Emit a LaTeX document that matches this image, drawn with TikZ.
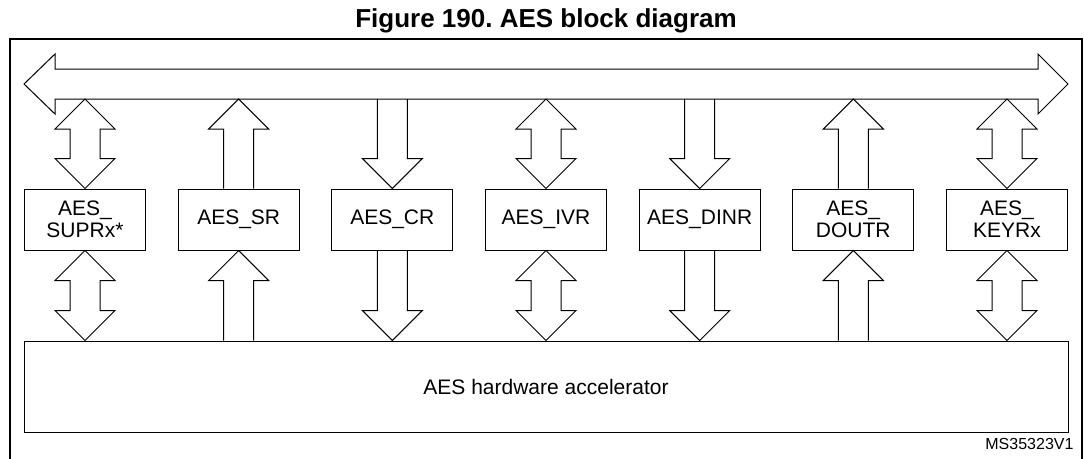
\documentclass[tikz,border=0pt]{standalone}
\usepackage{fontspec}
\setmainfont{Liberation Sans}
\usetikzlibrary{calc,positioning}
\frenchspacing

\tikzset{
  reg/.style={draw, rectangle, line width=1pt, minimum width=121pt, minimum height=61pt,
              inner sep=0pt, align=center, font=\fontsize{21}{22}\selectfont},
  fat/.style={draw, line width=1pt, line join=miter},
}

% block arrows between two points on one vertical (#1 = upper end, #2 = lower end)
\newcommand{\arrdown}[2]{%
  \draw[fat] let \p1=(#1), \p2=(#2) in
    (\x1-15pt,\y1) -- (\x1-15pt,\y2+30pt) -- (\x1-30pt,\y2+30pt) -- (\x1,\y2)
    -- (\x1+30pt,\y2+30pt) -- (\x1+15pt,\y2+30pt) -- (\x1+15pt,\y1);}
\newcommand{\arrup}[2]{%
  \draw[fat] let \p1=(#1), \p2=(#2) in
    (\x1-15pt,\y2) -- (\x1-15pt,\y1-30pt) -- (\x1-30pt,\y1-30pt) -- (\x1,\y1)
    -- (\x1+30pt,\y1-30pt) -- (\x1+15pt,\y1-30pt) -- (\x1+15pt,\y2);}
\newcommand{\arrboth}[2]{%
  \draw[fat] let \p1=(#1), \p2=(#2) in
    (\x1,\y1) -- (\x1+30pt,\y1-30pt) -- (\x1+15pt,\y1-30pt) -- (\x1+15pt,\y2+30pt)
    -- (\x1+30pt,\y2+30pt) -- (\x1,\y2) -- (\x1-30pt,\y2+30pt) -- (\x1-15pt,\y2+30pt)
    -- (\x1-15pt,\y1-30pt) -- (\x1-30pt,\y1-30pt) -- cycle;}

\begin{document}
\begin{tikzpicture}[x=1pt, y=-1pt]
\useasboundingbox (0,0) rectangle (1084,458);

% title and frame
\node[font=\bfseries\fontsize{26}{30}\selectfont, anchor=base] (title) at (546,27) {Figure 190. AES block diagram};
\draw[line width=2.5pt] (10,39) rectangle (1082,460);

% bus
\coordinate (busL) at (24,84);
\coordinate (busR) at (1068,84);
\coordinate (busbot) at (0,99);
\draw[fat] let \p1=(busL), \p2=(busR) in
  (\x1,\y1) -- (\x1+31pt,\y1+30pt) -- (\x1+31pt,\y1+15pt) -- (\x2-30pt,\y1+15pt)
  -- (\x2-30pt,\y1+30pt) -- (\x2,\y1) -- (\x2-30pt,\y1-30pt) -- (\x2-30pt,\y1-15pt)
  -- (\x1+31pt,\y1-15pt) -- (\x1+31pt,\y1-30pt) -- cycle;

% registers
\node[reg] (supr) at (85,219.5) {AES\_\\SUPRx*};
\node[reg] (sr) at (238.7,219.5) {AES\_SR};
\node[reg] (cr) at (392.3,219.5) {AES\_CR};
\node[reg] (ivr) at (546,219.5) {AES\_IVR};
\node[reg] (dinr) at (699.7,219.5) {AES\_DINR};
\node[reg] (doutr) at (853.3,219.5) {AES\_\\DOUTR};
\node[reg] (keyr) at (1007,219.5) {AES\_\\KEYRx};

% accelerator
\node[draw, line width=1pt, minimum width=1044pt, minimum height=91pt, inner sep=0pt,
      font=\fontsize{21}{22}\selectfont] (hw) at (546,386.5) {AES hardware accelerator};
\node[font=\fontsize{16}{18}\selectfont, anchor=base east] (ref) at (1077,449) {MS35323V1};

% bus side
\arrboth{supr.north |- busbot}{supr.north}
\arrup{sr.north |- busbot}{sr.north}
\arrdown{cr.north |- busbot}{cr.north}
\arrboth{ivr.north |- busbot}{ivr.north}
\arrdown{dinr.north |- busbot}{dinr.north}
\arrup{doutr.north |- busbot}{doutr.north}
\arrboth{keyr.north |- busbot}{keyr.north}

% accelerator side
\arrboth{supr.south}{supr.south |- hw.north}
\arrup{sr.south}{sr.south |- hw.north}
\arrdown{cr.south}{cr.south |- hw.north}
\arrboth{ivr.south}{ivr.south |- hw.north}
\arrdown{dinr.south}{dinr.south |- hw.north}
\arrup{doutr.south}{doutr.south |- hw.north}
\arrboth{keyr.south}{keyr.south |- hw.north}
\end{tikzpicture}
\end{document}
